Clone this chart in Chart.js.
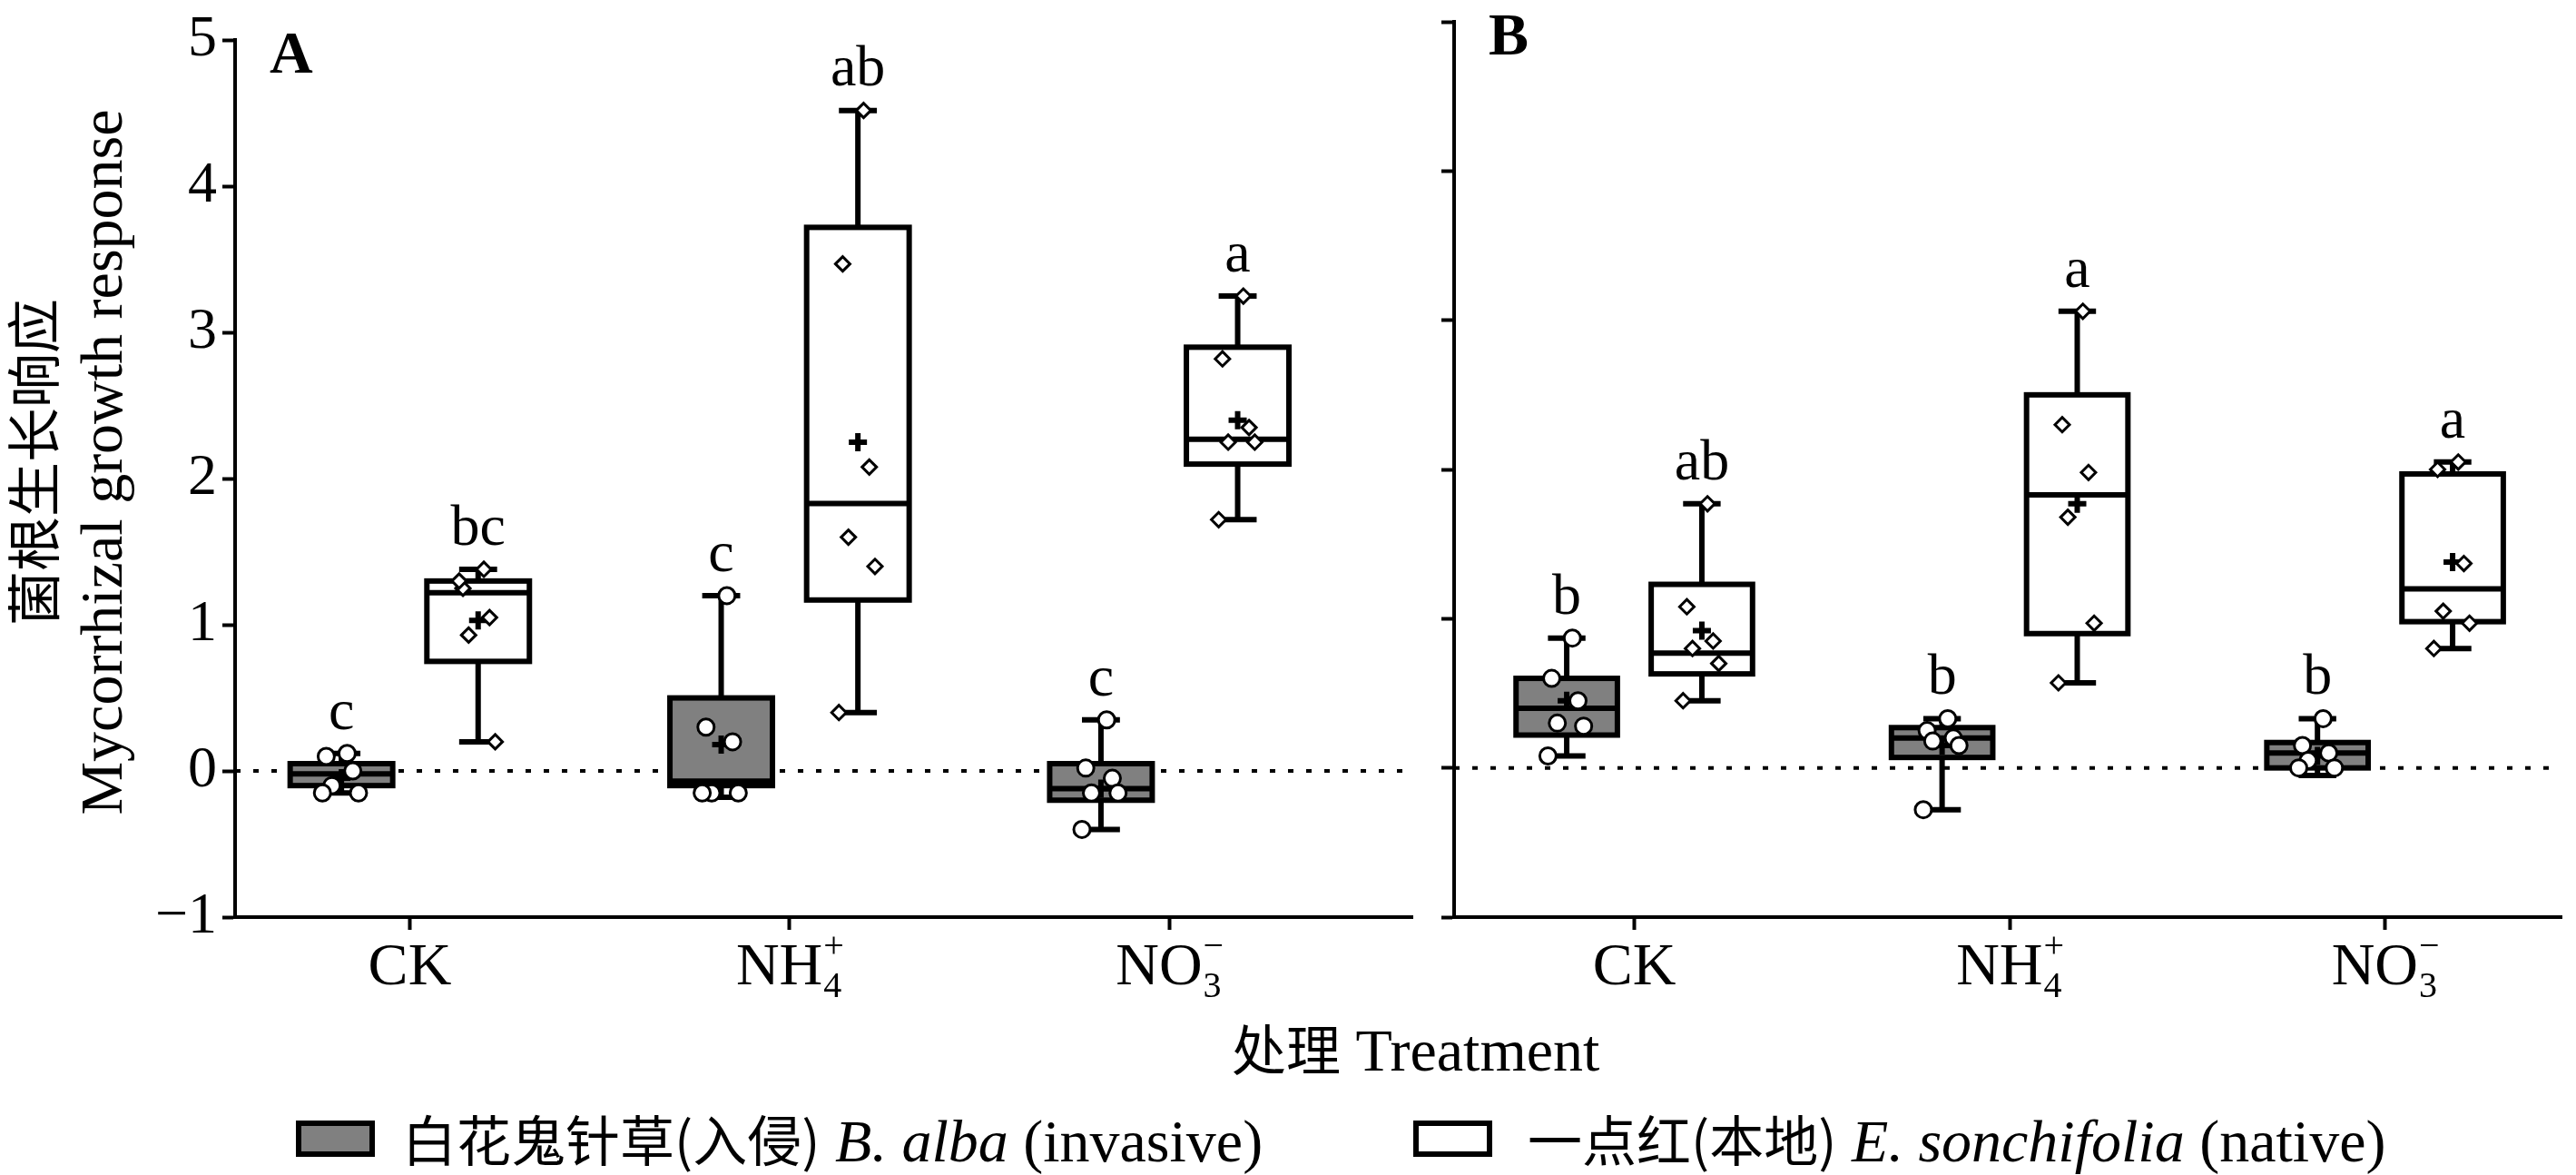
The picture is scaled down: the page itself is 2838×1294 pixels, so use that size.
<!DOCTYPE html>
<html><head><meta charset="utf-8">
<script src="https://cdn.jsdelivr.net/npm/chart.js@4"></script>
<style>
body{margin:0;width:2838px;height:1294px;background:#fff;position:relative;overflow:hidden;font-family:"Liberation Serif","Noto Sans CJK SC",serif;}
.cw{position:absolute;top:0;height:1140px;}
.txt{position:absolute;color:#000;font-size:66px;white-space:nowrap;line-height:80px;}
.lg{position:absolute;top:1234px;width:87px;height:40px;border:6px solid #000;box-sizing:border-box;}
</style></head><body>
<div class="cw" style="left:0;width:1572px"><canvas id="cA"></canvas></div>
<div class="cw" style="left:1572px;width:1266px"><canvas id="cB"></canvas></div>
<div class="txt" style="left:-377px;top:433px;transform:rotate(-90deg);text-align:center;line-height:74px;width:900px;font-family:'Noto Sans CJK SC','Liberation Serif';font-size:60px">菌根生长响应<br><span style="font-family:'Liberation Serif';font-size:66px">Mycorrhizal growth response</span></div>
<div class="txt" style="left:1357px;top:1113px;"><span style="font-family:'Noto Sans CJK SC';font-size:60px">处理</span> Treatment</div>
<div class="lg" style="left:326px;background:#808080"></div>
<div class="txt" style="left:443px;top:1213px;"><span style="font-family:'Noto Sans CJK SC';font-size:60px">白花鬼针草(入侵)</span> <i>B. alba</i> (invasive)</div>
<div class="lg" style="left:1557px;background:#fff"></div>
<div class="txt" style="left:1683px;top:1213px;"><span style="font-family:'Noto Sans CJK SC';font-size:60px">一点红(本地)</span> <i>E. sonchifolia</i> (native)</div>
<script>
const catLabels=[['CK','',''],['NH','4','+'],['NO','3','−']];
const yTicks=[-1,0,1,2,3,4,5];
// stats: [min,q1,median,q3,max,mean]
const A_alba=[[-0.15,-0.1,-0.02,0.05,0.12,-0.05],[-0.18,-0.1,-0.07,0.5,1.2,0.18],[-0.4,-0.2,-0.12,0.05,0.35,-0.12]];
const A_sonc=[[0.2,0.75,1.22,1.3,1.38,1.03],[0.4,1.17,1.83,3.72,4.52,2.25],[1.72,2.1,2.27,2.9,3.25,2.4]];
const B_alba=[[0.08,0.22,0.4,0.6,0.87,0.45],[-0.28,0.07,0.2,0.27,0.33,0.15],[-0.05,0.0,0.1,0.17,0.33,0.08]];
const B_sonc=[[0.45,0.63,0.77,1.23,1.77,0.92],[0.57,0.9,1.83,2.5,3.06,1.77],[0.8,0.98,1.2,1.97,2.05,1.38]];
const A_albaPts=[[0.12,0.1,0,-0.1,-0.15,-0.15],[1.2,0.3,0.2,-0.15,-0.15,-0.15],[0.35,0.02,-0.05,-0.15,-0.15,-0.4]];
const A_soncPts=[[1.38,1.25,1.05,0.93,0.2,1.3],[4.52,3.47,2.08,1.6,1.4,0.4],[3.25,2.82,2.35,2.25,2.25,1.72]];
const B_albaPts=[[0.87,0.6,0.45,0.3,0.28,0.08],[0.33,0.25,0.2,0.18,0.15,-0.28],[0.33,0.15,0.1,0.05,0.0,0.0]];
const B_soncPts=[[1.77,1.08,0.85,0.8,0.7,0.45],[3.06,2.3,1.98,1.68,0.97,0.57],[2.05,2.0,1.37,1.05,0.97,0.8]];
const A_letters=[['c','bc'],['c','ab'],['c','a']];
const B_letters=[['b','ab'],['b','a'],['b','a']];
const jitter=[0.015,-0.04,0.03,-0.025,0.045,-0.05];
const OFF=[-0.18,0.18], BW=0.27;

function pts(arr,off){const o=[];arr.forEach((g,i)=>g.forEach((v,j)=>o.push({x:i+off+jitter[j],y:v})));return o;}
function means(st,off){return st.map((s,i)=>({x:i+off,y:s[5]}));}

function make(id,alba,sonc,aP,sP,letters,label,xmin,xmax,yw){
 const boxes={id:'boxes',
  beforeDatasetsDraw(c){const ctx=c.ctx,x=c.scales.x,y=c.scales.y,a=c.chartArea;
   ctx.save();ctx.setLineDash([6,14]);ctx.lineWidth=4;ctx.strokeStyle='#000';
   ctx.beginPath();ctx.moveTo(a.left,y.getPixelForValue(0));ctx.lineTo(a.right,y.getPixelForValue(0));ctx.stroke();ctx.setLineDash([]);
   [[alba,'#808080',OFF[0]],[sonc,'#fff',OFF[1]]].forEach(([st,fill,off],k)=>{
    st.forEach((s,i)=>{const cx=x.getPixelForValue(i+off),l=x.getPixelForValue(i+off-BW/2),r=x.getPixelForValue(i+off+BW/2),
     cl=x.getPixelForValue(i+off-0.05),cr=x.getPixelForValue(i+off+0.05);
     const [mn,q1,md,q3,mx]=s.map(v=>y.getPixelForValue(v));
     ctx.lineWidth=6;ctx.strokeStyle='#000';
     ctx.beginPath();ctx.moveTo(cx,mn);ctx.lineTo(cx,mx);ctx.moveTo(cl,mn);ctx.lineTo(cr,mn);ctx.moveTo(cl,mx);ctx.lineTo(cr,mx);ctx.stroke();
     ctx.fillStyle=fill;ctx.fillRect(l,q3,r-l,q1-q3);ctx.strokeRect(l,q3,r-l,q1-q3);
     ctx.beginPath();ctx.moveTo(l,md);ctx.lineTo(r,md);ctx.stroke();
     ctx.fillStyle='#000';ctx.font='64px "Liberation Serif"';ctx.textAlign='center';ctx.textBaseline='bottom';
     ctx.fillText(letters[i][k],cx,mx-12);
    });});
   ctx.restore();},
  afterDraw(c){const ctx=c.ctx,x=c.scales.x,a=c.chartArea;ctx.save();ctx.fillStyle='#000';ctx.textBaseline='alphabetic';
   catLabels.forEach((t,i)=>{const px=x.getPixelForValue(i);ctx.font='66px "Liberation Serif"';
    const w1=ctx.measureText(t[0]).width;ctx.font='40px "Liberation Serif"';const w2=Math.max(ctx.measureText(t[1]).width,ctx.measureText(t[2]).width);
    const st=px-(w1+w2)/2,by=a.bottom+74;ctx.textAlign='left';ctx.font='66px "Liberation Serif"';ctx.fillText(t[0],st,by);
    ctx.font='40px "Liberation Serif"';if(t[1]){ctx.fillText(t[1],st+w1+1,by+14);ctx.fillText(t[2],st+w1+1,by-30);}});
   ctx.font='bold 66px "Liberation Serif"';ctx.fillText(label,a.left+38,a.top+36);ctx.restore();}
 };
 const mk={radius:9,borderWidth:3,borderColor:'#000',backgroundColor:'#fff'};
 return new Chart(document.getElementById(id),{type:'scatter',
  data:{datasets:[
   {data:pts(aP,OFF[0]),pointStyle:'circle',...mk},
   {data:pts(sP,OFF[1]),pointStyle:'rectRot',...mk,radius:8},
   {data:means(alba,OFF[0]).concat(means(sonc,OFF[1])),pointStyle:'cross',radius:10,borderWidth:6,borderColor:'#000'}
  ]},
  options:{animation:false,responsive:true,maintainAspectRatio:false,devicePixelRatio:1,
   layout:{padding:{top:24,right:0}},
   plugins:{legend:{display:false},tooltip:{enabled:false}},
   scales:{
    x:{type:'linear',min:xmin,max:xmax,afterBuildTicks(s){s.ticks=[0,1,2].map(v=>({value:v}));},afterFit(s){s.height=130;},
     grid:{drawOnChartArea:false,drawTicks:true,tickLength:14,tickWidth:4,color:'#000'},border:{color:'#000',width:4},
     ticks:{callback:()=>'' ,font:{size:10}}},
    y:{min:-1,max:5,afterBuildTicks(s){s.ticks=yTicks.map(v=>({value:v}));},afterFit(s){s.width=yw;},
     grid:{drawOnChartArea:false,tickLength:14,tickWidth:4,color:'#000'},border:{color:'#000',width:4},
     ticks:{display:yw>100,color:'#000',font:{family:'Liberation Serif',size:64},padding:6,callback:v=>v<0?'−'+(-v):v}}
   }},
  plugins:[boxes]});
}
make('cA',A_alba,A_sonc,A_albaPts,A_soncPts,A_letters,'A',-0.46,2.64,259);
make('cB',B_alba,B_sonc,B_albaPts,B_soncPts,B_letters,'B',-0.48,2.47,30);
</script></body></html>
